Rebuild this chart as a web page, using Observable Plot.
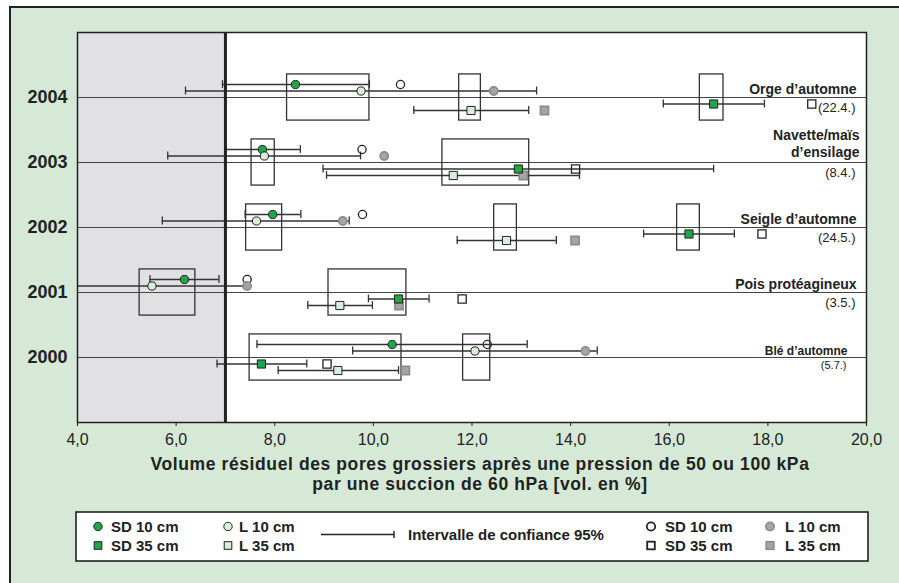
<!DOCTYPE html>
<html><head><meta charset="utf-8">
<script src="https://cdn.jsdelivr.net/npm/d3@7"></script>
<script src="https://cdn.jsdelivr.net/npm/@observablehq/plot@0.6"></script>
<style>
body{margin:0;background:#fff;font-family:"Liberation Sans",Arial,Helvetica,sans-serif;}
#panel{position:absolute;left:9px;top:6px;width:890px;height:577px;background:#d5e9d6;border-top:2px solid #222;border-left:2px solid #222;box-sizing:border-box;}
#chart{position:absolute;left:0;top:0;}
#legend{position:absolute;left:75px;top:511px;}
</style></head><body>
<div id="panel"></div><div id="chart"></div><div id="legend"></div>
<script>
// ---- data ----
const years = [2004, 2003, 2002, 2001, 2000];
const crops = ["Orge d’automne", "Navette/maïs\nd’ensilage", "Seigle d’automne", "Pois protéagineux", "Blé d’automne"];
const dates = ["(22.4.)", "(8.4.)", "(24.5.)", "(3.5.)", "(5.7.)"];

// filled markers (with 95% confidence interval)
const sd10   = [8.42, 7.75, 7.96, 6.17, 10.38];
const sd10Lo = [6.94, 7.00, 7.40, 5.47, 7.64];
const sd10Hi = [9.92, 8.52, 8.53, 6.87, 13.12];
const l10    = [9.75, 7.79, 7.63, 5.51, 12.06];
const l10Lo  = [6.19, 5.83, 5.72, 3.58, 9.58];
const l10Hi  = [13.31, 9.74, 9.51, 7.44, 14.54];
const sd35   = [16.90, 12.94, 16.40, 10.51, 7.73];
const sd35Lo = [15.88, 8.98, 15.48, 9.90, 6.83];
const sd35Hi = [17.93, 16.90, 17.32, 11.13, 8.65];
const l35    = [11.98, 11.62, 12.70, 9.32, 9.28];
const l35Lo  = [10.82, 9.05, 11.70, 8.67, 8.07];
const l35Hi  = [13.15, 14.18, 13.71, 9.98, 10.51];

// open / grey markers
const sd10b = [10.55, 9.77, 9.78, 7.44, 12.31];
const l10b  = [12.44, 10.22, 9.38, 7.44, 14.30];
const sd35b = [18.89, 14.10, 17.88, 11.80, 9.06];
const l35b  = [13.47, 13.04, 14.09, 10.52, 10.65];

// grouping boxes
const boxYear = [2004, 2004, 2004, 2003, 2003, 2002, 2002, 2002, 2001, 2001, 2000, 2000];
const boxLo   = [8.25, 11.74, 16.62, 7.53, 11.40, 7.42, 12.45, 16.16, 5.26, 9.09, 7.49, 11.82];
const boxHi   = [9.92, 12.18, 17.10, 8.00, 13.16, 8.15, 12.91, 16.62, 6.39, 10.67, 10.57, 12.37];

const xTicks = [4, 6, 8, 10, 12, 14, 16, 18, 20];
const threshold = 7;
const xTitle = "Volume résiduel des pores grossiers après une pression de 50 ou 100 kPa\npar une succion de 60 hPa [vol. en %]";
const legendItems1 = ["SD 10 cm", "SD 35 cm", "L 10 cm", "L 35 cm"];
const legendItems2 = ["SD 10 cm", "SD 35 cm", "L 10 cm", "L 35 cm"];
const ciLabel = "Intervalle de confiance 95%";

// ---- styles ----
const GREEN = "#22a54a", LIGHT = "#d8eed8", GREY = "#a5a5a5", GREYS = "#8a8a8a", INK = "#222";
const FONT = "Liberation Sans, Arial, Helvetica, sans-serif";

const filledSeries = [
  {v: sd10, lo: sd10Lo, hi: sd10Hi, off: 0.2, sym: "circle", fill: GREEN},
  {v: l10, lo: l10Lo, hi: l10Hi, off: 0.1, sym: "circle", fill: LIGHT},
  {v: sd35, lo: sd35Lo, hi: sd35Hi, off: -0.1, sym: "square", fill: GREEN},
  {v: l35, lo: l35Lo, hi: l35Hi, off: -0.2, sym: "square", fill: LIGHT}
];
const openSeries = [
  {v: sd10b, off: 0.2, sym: "circle", fill: "none", stroke: INK, sw: 1.3},
  {v: sd35b, off: -0.1, sym: "square", fill: "none", stroke: INK, sw: 1.3},
  {v: l10b, off: 0.1, sym: "circle", fill: GREY, stroke: GREYS, sw: 1.6},
  {v: l35b, off: -0.2, sym: "square", fill: GREY, stroke: GREYS, sw: 1.6}
];
const rows = s => years.map((yr, i) => ({x: s.v[i], lo: s.lo ? s.lo[i] : null, hi: s.hi ? s.hi[i] : null, y: yr + s.off}));
const bars = filledSeries.flatMap(rows);
const ends = bars.flatMap(d => [{x: d.lo, y: d.y}, {x: d.hi, y: d.y}]);
const boxes = boxYear.map((y, i) => ({y, x1: boxLo[i], x2: boxHi[i]}));
const labels = years.map((y, i) => ({y, crop: crops[i], date: dates[i]}));
const mainLabels = labels.slice(0, 4), lastLabel = labels.slice(4);
const oneLine = mainLabels.filter(d => !d.crop.includes("\n"));
const twoLine = mainLabels.filter(d => d.crop.includes("\n"));
const xMax = xTicks[xTicks.length - 1];

const dotMark = (s, rows) => Plot.dot(rows, {x: "x", y: "y", symbol: s.sym, r: s.sym === "square" ? 4.6 : 4.1,
  fill: s.fill, stroke: s.stroke || INK, strokeWidth: s.sw || 1});

const plot = Plot.plot({
  width: 899, height: 500,
  marginLeft: 77, marginRight: 33, marginTop: 32, marginBottom: 78,
  style: {background: "transparent", fontFamily: FONT, color: INK, overflow: "visible"},
  x: {domain: [xTicks[0], xMax]},
  y: {domain: [1999, 2005]},
  marks: [
    Plot.frame({fill: "white", stroke: "none"}),
    Plot.rect([{a: xTicks[0], b: threshold}], {x1: "a", x2: "b", fill: "#e1e1e4"}),
    Plot.ruleY(years, {stroke: "#444", strokeWidth: 1.2}),
    Plot.rect(boxes, {x1: "x1", x2: "x2", y1: d => d.y - 0.355, y2: d => d.y + 0.355, fill: "none", stroke: "#333", strokeWidth: 1.3}),
    Plot.ruleY(bars, {y: "y", x1: "lo", x2: "hi", stroke: "#333", strokeWidth: 1.3, clip: true}),
    Plot.ruleX(ends, {x: "x", y1: d => d.y - 0.06, y2: d => d.y + 0.06, stroke: "#333", strokeWidth: 1.3, clip: true}),
    ...openSeries.map(s => dotMark(s, rows(s))),
    ...filledSeries.map(s => dotMark(s, rows(s))),
    Plot.ruleX([threshold], {stroke: INK, strokeWidth: 3}),
    Plot.frame({stroke: INK, strokeWidth: 1.5}),
    Plot.text(oneLine, {x: () => xMax, y: "y", text: "crop", textAnchor: "end", lineAnchor: "bottom", dx: -10, dy: -4, fontWeight: "bold", fontSize: 14, fill: INK}),
    Plot.text(twoLine, {x: () => xMax, y: "y", text: "crop", textAnchor: "end", lineAnchor: "bottom", dx: -7, dy: -6, fontWeight: "bold", fontSize: 14, lineHeight: 1.15, fill: INK}),
    Plot.text(mainLabels, {x: () => xMax, y: "y", text: "date", textAnchor: "end", lineAnchor: "top", dx: -11, dy: 5, fontSize: 13, fill: INK}),
    Plot.text(lastLabel, {x: () => xMax, y: "y", text: "crop", textAnchor: "end", lineAnchor: "bottom", dx: -19, dy: -3, fontWeight: "bold", fontSize: 12, fill: INK}),
    Plot.text(lastLabel, {x: () => xMax, y: "y", text: "date", textAnchor: "end", lineAnchor: "top", dx: -20, dy: 4, fontSize: 11, fill: INK}),
    Plot.axisX({ticks: xTicks, tickFormat: d => d.toFixed(1).replace(".", ","), tickSize: 4, tickPadding: 7, fontSize: 16, label: null, stroke: INK}),
    Plot.axisY({ticks: years, tickFormat: d => String(d), tickSize: 0, tickPadding: 10, fontSize: 18, fontWeight: "bold", label: null}),
    Plot.text([xTitle], {text: d => d, frameAnchor: "bottom", lineAnchor: "top", dy: 34, dx: 8, fontWeight: "bold", fontSize: 17.5, lineHeight: 1.12, fill: INK})
  ]
});
d3.select(plot).selectAll("text").filter(function() { return this.textContent.startsWith("Volume"); })
  .attr("letter-spacing", "0.6px");
document.getElementById("chart").appendChild(plot);

// ---- legend ----
const L = d3.select("#legend").append("svg").attr("width", 794).attr("height", 51).style("font-family", FONT);
L.append("rect").attr("x", 1).attr("y", 1).attr("width", 792).attr("height", 49).attr("fill", "white").attr("stroke", INK).attr("stroke-width", 1.6);
const r1 = 15.5, r2 = 34.5;
function sym(g, kind, x, y, fill, stroke, sw) {
  if (kind === "circle") g.append("circle").attr("cx", x).attr("cy", y).attr("r", 4.2).attr("fill", fill).attr("stroke", stroke).attr("stroke-width", sw);
  else g.append("rect").attr("x", x - 3.8).attr("y", y - 3.8).attr("width", 7.6).attr("height", 7.6).attr("fill", fill).attr("stroke", stroke).attr("stroke-width", sw);
}
function lab(x, y, t) {
  L.append("text").attr("x", x).attr("y", y).attr("dy", "0.36em").attr("font-size", 15).attr("font-weight", "bold").attr("fill", INK).text(t);
}
sym(L, "circle", 23, r1, GREEN, INK, 1); lab(36, r1, legendItems1[0]);
sym(L, "square", 23, r2, GREEN, INK, 1); lab(36, r2, legendItems1[1]);
sym(L, "circle", 153, r1, LIGHT, INK, 1); lab(164, r1, legendItems1[2]);
sym(L, "square", 153, r2, LIGHT, INK, 1); lab(164, r2, legendItems1[3]);
L.append("line").attr("x1", 246).attr("x2", 319).attr("y1", 23.5).attr("y2", 23.5).attr("stroke", INK).attr("stroke-width", 1.6);
L.append("line").attr("x1", 319).attr("x2", 319).attr("y1", 20).attr("y2", 27).attr("stroke", INK).attr("stroke-width", 1.4);
lab(333, 23.5, ciLabel);
sym(L, "circle", 576, r1, "white", INK, 1.8); lab(590, r1, legendItems2[0]);
sym(L, "square", 576, r2, "white", INK, 1.8); lab(590, r2, legendItems2[1]);
sym(L, "circle", 695, r1, GREY, GREYS, 1.6); lab(710, r1, legendItems2[2]);
sym(L, "square", 695, r2, GREY, GREYS, 1.6); lab(710, r2, legendItems2[3]);
</script>
</body></html>
